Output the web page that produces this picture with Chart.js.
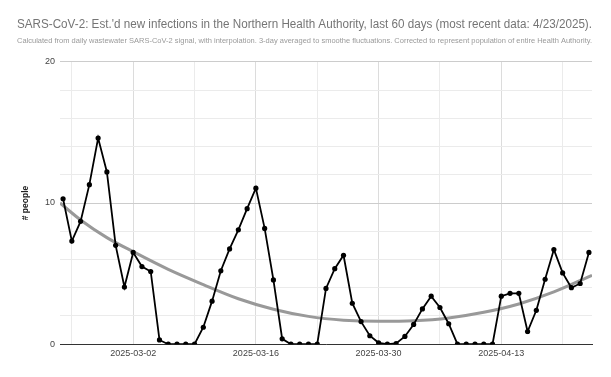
<!DOCTYPE html>
<html>
<head>
<meta charset="utf-8">
<style>
  html, body { margin: 0; padding: 0; background: #fff; }
  #wrap { width: 611px; height: 377px; position: relative; }
</style>
<script src="https://cdn.jsdelivr.net/npm/chart.js@4"></script>
</head>
<body>
<div id="wrap"><canvas id="c" width="611" height="377"></canvas></div>
<script>
// ---- data ----
const startDate = '2025-02-22';
const newInfections = [
  10.3, 7.3, 8.7, 11.3, 14.6, 12.2, 7.0, 4.05, 6.5, 5.5,
  5.15, 0.3, 0, 0, 0, 0, 1.2, 3.05, 5.2, 6.75,
  8.1, 9.6, 11.05, 8.2, 4.55, 0.38, 0, 0, 0, 0,
  3.95, 5.35, 6.3, 2.9, 1.6, 0.6, 0.1, 0, 0.05, 0.55,
  1.4, 2.5, 3.4, 2.6, 1.45, 0, 0, 0, 0, 0,
  3.4, 3.6, 3.6, 0.9, 2.4, 4.6, 6.7, 5.05, 4.0, 4.3,
  6.5
];
const trendDays   = [-0.35, 2, 5, 8, 12, 16, 20, 24, 28, 32, 36, 40, 44, 48, 52, 56, 60.35];
const trendValues = [10.0, 8.8, 7.55, 6.55, 5.3, 4.22, 3.22, 2.48, 1.97, 1.7, 1.62, 1.66, 1.86, 2.26, 2.85, 3.7, 4.88];
const yTickLabels = [0, 10, 20];
const xLabelDates = ['2025-03-02', '2025-03-16', '2025-03-30', '2025-04-13'];

const titleText = "SARS-CoV-2: Est.'d new infections in the Northern Health Authority, last 60 days (most recent data: 4/23/2025).";
const subtitleText = "Calculated from daily wastewater SARS-CoV-2 signal, with interpolation. 3-day averaged to smoothe fluctuations. Corrected to represent population of entire Health Authority.";

// ---- helpers ----
function dayToDate(d) {
  const t = new Date(startDate + 'T00:00:00Z');
  t.setUTCDate(t.getUTCDate() + Math.round(d));
  return t.toISOString().slice(0, 10);
}
const mainPoints = newInfections.map((v, i) => ({ x: i, y: v }));
const trendPoints = trendDays.map((d, i) => ({ x: d, y: trendValues[i] }));
const labelledDays = xLabelDates.map(s => Math.round((new Date(s + 'T00:00:00Z') - new Date(startDate + 'T00:00:00Z')) / 86400000));

const FONT = "'Liberation Sans', Arial, sans-serif";

new Chart(document.getElementById('c'), {
  type: 'line',
  data: {
    datasets: [
      {
        label: 'Est. new infections',
        data: mainPoints,
        borderColor: '#000',
        backgroundColor: '#000',
        borderWidth: 1.8,
        pointRadius: 2.6,
        pointBorderWidth: 0,
        pointBackgroundColor: '#000',
        tension: 0
      },
      {
        label: 'Trend',
        data: trendPoints,
        borderColor: '#999999',
        borderWidth: 3,
        pointRadius: 0,
        cubicInterpolationMode: 'monotone',
        fill: false
      }
    ]
  },
  options: {
    responsive: false,
    animation: false,
    devicePixelRatio: 1,
    layout: { padding: { left: 17, right: 19, top: 0, bottom: 14 } },
    plugins: {
      legend: { display: false },
      tooltip: { enabled: false },
      title: {
        display: true,
        text: titleText,
        align: 'start',
        color: '#757575',
        font: { family: FONT, size: 12, weight: 'normal' },
        padding: { top: 17, bottom: 0 }
      },
      subtitle: {
        display: true,
        text: subtitleText,
        align: 'start',
        color: '#9a9a9a',
        font: { family: FONT, size: 7.5, weight: 'normal' },
        padding: { top: 5, bottom: 16.4 }
      }
    },
    scales: {
      x: {
        type: 'linear',
        min: -0.35,
        max: 60.35,
        afterBuildTicks: (scale) => {
          const t = [];
          for (let d = 1; d <= 60; d += 7) t.push({ value: d });
          scale.ticks = t;
        },
        ticks: {
          autoSkip: false,
          maxRotation: 0,
          padding: 4,
          color: '#444',
          font: { family: FONT, size: 9 },
          callback: (v) => labelledDays.includes(v) ? dayToDate(v) : ''
        },
        grid: {
          drawTicks: false,
          color: (ctx) => (ctx.tick && labelledDays.includes(ctx.tick.value)) ? '#dcdcdc' : '#ebebeb',
          lineWidth: 1
        },
        border: { display: true, color: '#333', width: 1 }
      },
      y: {
        type: 'linear',
        min: 0,
        max: 20,
        afterFit: (scale) => { scale.width = 43; },
        afterBuildTicks: (scale) => {
          const t = [];
          for (let v = 0; v <= 20; v += 2) t.push({ value: v });
          scale.ticks = t;
        },
        ticks: {
          padding: 5,
          color: '#444',
          font: { family: FONT, size: 9 },
          callback: (v) => yTickLabels.includes(v) ? String(v) : ''
        },
        grid: {
          drawTicks: false,
          color: (ctx) => (ctx.tick && ctx.tick.value % 10 === 0) ? '#cccccc' : '#ebebeb',
          lineWidth: 1
        },
        border: { display: false },
        title: {
          display: true,
          text: '# people',
          color: '#222',
          font: { family: FONT, size: 8.5, weight: 'bold' },
          padding: { top: 4, bottom: 0 }
        }
      }
    }
  }
});
</script>
</body>
</html>
